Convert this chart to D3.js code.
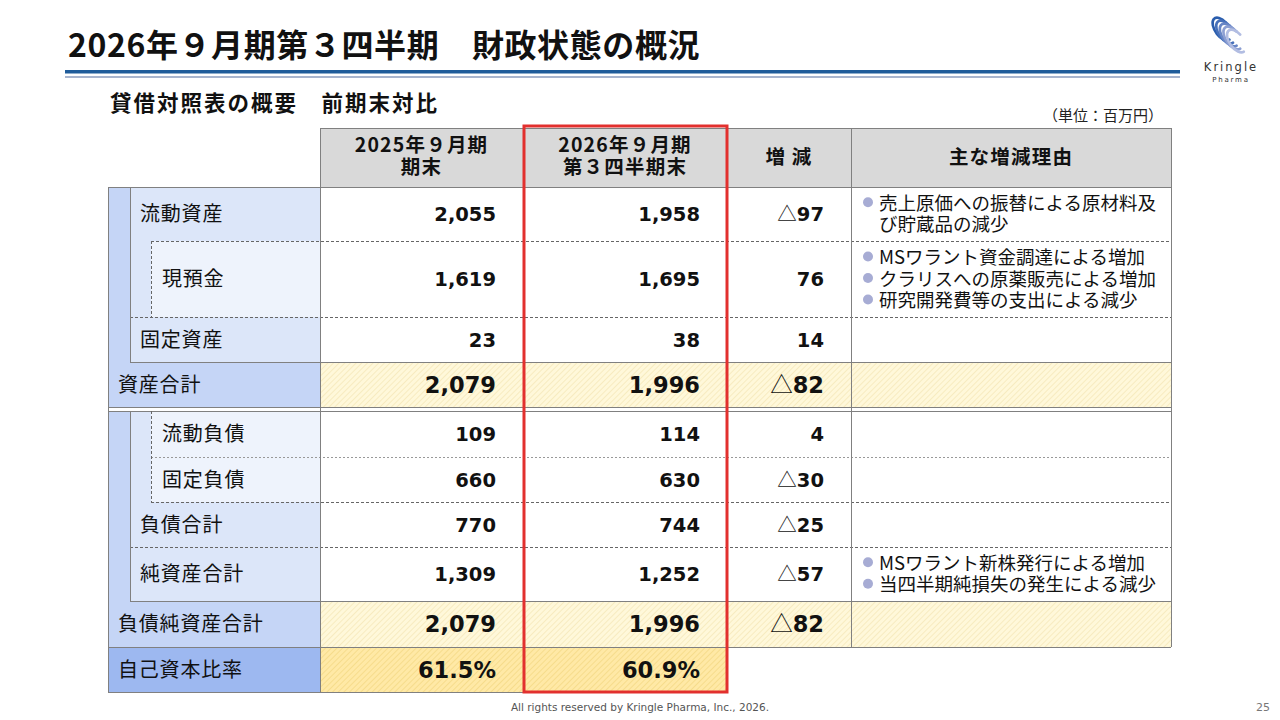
<!DOCTYPE html>
<html>
<head>
<meta charset="utf-8">
<script src="https://cdn.jsdelivr.net/npm/d3@7"></script>
<style>
  html, body { margin: 0; padding: 0; background: #fff; }
  svg { display: block; }
</style>
</head>
<body>
<script>
// values in 百万円
const items = ["流動資産", "現預金", "固定資産", "資産合計", "流動負債", "固定負債", "負債合計", "純資産合計", "負債純資産合計", "自己資本比率"];
const levels = [1, 2, 1, 0, 2, 2, 1, 1, 0, 0];
const prevValues = [2055, 1619, 23, 2079, 109, 660, 770, 1309, 2079, 61.5];
const currValues = [1958, 1695, 38, 1996, 114, 630, 744, 1252, 1996, 60.9];
const diffValues = [-97, 76, 14, -82, 4, -30, -25, -57, -82, null];
const reasons = [
	["売上原価への振替による原材料及", "び貯蔵品の減少"],
	["MSワラント資金調達による増加", "クラリスへの原薬販売による増加", "研究開発費等の支出による減少"],
	[], [], [], [], [],
	["MSワラント新株発行による増加", "当四半期純損失の発生による減少"],
	[], []
];
const headers = [["2025年９月期", "期末"], ["2026年９月期", "第３四半期末"], ["増 減"], ["主な増減理由"]];
const columns = ["prev", "curr", "diff", "reason"];

// layout
const W = 1280, H = 720;
const jp = "'Noto Sans CJK JP', 'Noto Sans', sans-serif";
const num = "'DejaVu Sans', Verdana, sans-serif";
const grid = "#808080";
const rowHeights = [54, 76, 45, 45, 46, 45, 45, 54, 46, 45];
const gapAfter = 3, gapSize = 4;
const headTop = 128, headBottom = 187;
const xLeft = 108, xStrip = 130, xSub = 151, xLabelEnd = 320, xRight = 1171;

const colX = d3.scaleOrdinal().domain(columns).range([320, 523, 727, 851]);
const colW = d3.scaleOrdinal().domain(columns).range([203, 204, 124, 320]);

let acc = headBottom;
const rowY = rowHeights.map((h, i) => {
	const y = acc;
	acc += h + (i === gapAfter ? gapSize : 0);
	return y;
});
const tableBottom = rowY[9] + rowHeights[9];

const svg = d3.select("body").append("svg")
	.attr("width", W)
	.attr("height", H);

// hatch patterns for total rows
const defs = svg.append("defs");
function hatch(id, bg, fg) {
	const p = defs.append("pattern")
		.attr("id", id)
		.attr("patternUnits", "userSpaceOnUse")
		.attr("width", 4).attr("height", 4)
		.attr("patternTransform", "rotate(45)");
	p.append("rect").attr("width", 4).attr("height", 4).attr("fill", bg);
	p.append("line").attr("x1", 0).attr("y1", 0).attr("x2", 0).attr("y2", 4)
		.attr("stroke", fg).attr("stroke-width", 1.2);
}
hatch("hatchLight", "#FFF8DA", "#F3E3AE");
hatch("hatchDark", "#FFE9A6", "#F1D37A");

// title + rules
svg.append("text")
	.attr("x", 68).attr("y", 57)
	.attr("font-family", jp).attr("font-weight", 700).attr("font-size", 32)
	.attr("letter-spacing", 0.6)
	.attr("fill", "#111")
	.text("2026年９月期第３四半期　財政状態の概況");
svg.append("rect").attr("x", 65).attr("y", 70).attr("width", 1115).attr("height", 3.5).attr("fill", "#1F5C9A");
svg.append("rect").attr("x", 65).attr("y", 76).attr("width", 1115).attr("height", 2).attr("fill", "#A8B5CE");

svg.append("text")
	.attr("x", 110).attr("y", 111)
	.attr("font-family", jp).attr("font-weight", 700).attr("font-size", 21.5)
	.attr("letter-spacing", 2)
	.attr("fill", "#111")
	.text("貸借対照表の概要　前期末対比");
svg.append("text")
	.attr("x", 1163).attr("y", 121)
	.attr("text-anchor", "end")
	.attr("font-family", jp).attr("font-size", 15)
	.attr("fill", "#222")
	.text("（単位：百万円）");

// logo
const logo = svg.append("g").attr("transform", "translate(1229,36)");
const arcColors = ["#2A5DAD", "#4670BA", "#6886C6", "#8C9FD3", "#B2BDE2"];
logo.selectAll("g.coil")
	.data(arcColors)
	.join("g")
	.attr("class", "coil")
	.attr("transform", (c, i) => `translate(${-7 + i * 3.6},${-7 + i * 3}) rotate(-35)`)
	.append("path")
	.attr("d", "M 0 13 A 7 13 0 1 1 6.8 -3")
	.attr("fill", "none")
	.attr("stroke", c => c)
	.attr("stroke-width", 2.6)
	.attr("stroke-linecap", "round");
logo.append("text").attr("x", 2).attr("y", 35)
	.attr("text-anchor", "middle")
	.attr("font-family", "'DejaVu Sans', sans-serif").attr("font-size", 11.5)
	.attr("letter-spacing", 2).attr("fill", "#333")
	.text("Kringle");
logo.append("text").attr("x", 2).attr("y", 46)
	.attr("text-anchor", "middle")
	.attr("font-family", "'DejaVu Sans', sans-serif").attr("font-size", 7)
	.attr("letter-spacing", 1.8).attr("fill", "#333")
	.text("Pharma");

// header
const head = svg.append("g");
head.selectAll("rect")
	.data(columns)
	.join("rect")
	.attr("x", c => colX(c)).attr("y", headTop)
	.attr("width", c => colW(c)).attr("height", headBottom - headTop)
	.attr("fill", "#D9D9D9");
head.selectAll("text")
	.data(headers)
	.join("text")
	.attr("x", (h, i) => colX(columns[i]) + colW(columns[i]) / 2)
	.attr("y", h => h.length === 2 ? 152 : 164)
	.attr("text-anchor", "middle")
	.attr("font-family", jp).attr("font-weight", 700).attr("font-size", 19.5)
	.attr("letter-spacing", 1.2)
	.attr("fill", "#111")
	.selectAll("tspan")
	.data(h => h)
	.join("tspan")
	.attr("x", function () { return this.parentNode.getAttribute("x"); })
	.attr("dy", (t, j) => j === 0 ? 0 : 22)
	.text(t => t);

// label cells
const labels = svg.append("g");
const labelColor = ["#C5D5F6", "#DCE6F9", "#EEF3FC"];
items.forEach((name, i) => {
	const y = rowY[i], h = rowHeights[i], lv = levels[i];
	if (lv === 0) {
		labels.append("rect").attr("x", xLeft).attr("y", y).attr("width", xLabelEnd - xLeft).attr("height", h)
			.attr("fill", i === 9 ? "#9DB8F0" : labelColor[0]);
	} else {
		labels.append("rect").attr("x", xLeft).attr("y", y).attr("width", xStrip - xLeft).attr("height", h)
			.attr("fill", labelColor[0]);
		labels.append("rect").attr("x", xStrip).attr("y", y).attr("width", xLabelEnd - xStrip).attr("height", h)
			.attr("fill", labelColor[1]);
		if (lv === 2) {
			labels.append("rect").attr("x", xSub).attr("y", y).attr("width", xLabelEnd - xSub).attr("height", h)
				.attr("fill", labelColor[2]);
		}
	}
});
labels.selectAll("text")
	.data(items)
	.join("text")
	.attr("x", (d, i) => [118, 140, 162][levels[i]])
	.attr("y", (d, i) => rowY[i] + rowHeights[i] / 2)
	.attr("dy", "0.36em")
	.attr("font-family", jp).attr("font-size", 20)
	.attr("letter-spacing", 0.8)
	.attr("fill", "#111")
	.text(d => d);

// value cells
const cells = svg.append("g");
items.forEach((name, i) => {
	const total = levels[i] === 0;
	const cols = i === 9 ? ["prev", "curr"] : columns;
	cols.forEach(c => {
		cells.append("rect")
			.attr("x", colX(c)).attr("y", rowY[i])
			.attr("width", colW(c)).attr("height", rowHeights[i])
			.attr("fill", !total ? "#fff" : (i === 9 ? "url(#hatchDark)" : "url(#hatchLight)"));
	});
});

const fmtInt = d3.format(",");
const fmtPct = v => d3.format(".1f")(v) + "%";
const fmt = (v, i) => i === 9 ? fmtPct(v) : fmtInt(v);

function valueText(values, col) {
	cells.append("g").selectAll("text")
		.data(values)
		.join("text")
		.filter(v => v !== null)
		.attr("x", colX(col) + colW(col) - 27)
		.attr("y", (v, i) => rowY[i] + rowHeights[i] / 2)
		.attr("dy", "0.36em")
		.attr("text-anchor", "end")
		.attr("font-family", num).attr("font-weight", 700)
		.attr("font-size", (v, i) => levels[i] === 0 ? 22.5 : 19.5)
		.attr("fill", "#111")
		.each(function (v, i) {
			const t = d3.select(this);
			if (col === "diff" && v < 0) {
				t.append("tspan").attr("font-family", jp).attr("font-weight", 400).text("△");
				t.append("tspan").text(fmtInt(-v));
			} else {
				t.text(fmt(v, i));
			}
		});
}
valueText(prevValues, "prev");
valueText(currValues, "curr");
valueText(diffValues, "diff");

// reasons
const reasonG = svg.append("g");
reasons.forEach((lines, i) => {
	const lh = 21.5;
	const y0 = rowY[i] + rowHeights[i] / 2 - (lines.length - 1) * lh / 2;
	lines.forEach((t, j) => {
		const startsBullet = !(i === 0 && j === 1);
		if (startsBullet) {
			reasonG.append("circle")
				.attr("cx", colX("reason") + 17).attr("cy", y0 + j * lh - 1)
				.attr("r", 5).attr("fill", "#A7ACD4");
		}
		reasonG.append("text")
			.attr("x", colX("reason") + 28).attr("y", y0 + j * lh)
			.attr("dy", "0.36em")
			.attr("font-family", jp).attr("font-size", 18.5)
			.attr("fill", "#111")
			.text(t);
	});
});

// grid lines
const lines = svg.append("g").attr("fill", "none").attr("stroke", grid).attr("stroke-width", 1);
function hline(y, x1, x2, style) {
	const l = lines.append("line").attr("x1", x1).attr("x2", x2).attr("y1", y + 0.5).attr("y2", y + 0.5);
	if (style === "dash") l.attr("stroke-dasharray", "3,2").attr("stroke", "#666");
	if (style === "dot") l.attr("stroke-dasharray", "2,2").attr("stroke", "#999");
	return l;
}
function vline(x, y1, y2, style) {
	const l = lines.append("line").attr("x1", x + 0.5).attr("x2", x + 0.5).attr("y1", y1).attr("y2", y2);
	if (style === "dash") l.attr("stroke-dasharray", "3,2").attr("stroke", "#666");
	return l;
}

const ruleStart = [xLeft, xSub, xStrip, xStrip, xLeft, xSub, xSub, xStrip, xStrip, xLeft];
const ruleStyle = ["solid", "dash", "dash", "solid", "solid", "dot", "dash", "dash", "solid", "solid"];
rowY.forEach((y, i) => hline(y, ruleStart[i], xRight, ruleStyle[i]));
hline(rowY[gapAfter] + rowHeights[gapAfter], xLeft, xRight, "solid");
hline(headTop, xLabelEnd, xRight, "solid");
hline(tableBottom, xLeft, colX("diff"), "solid");

vline(xLeft, headBottom, tableBottom);
vline(xStrip, rowY[0], rowY[2] + rowHeights[2]);
vline(xStrip, rowY[4], rowY[7] + rowHeights[7]);
vline(xSub, rowY[1], rowY[1] + rowHeights[1], "dash");
vline(xSub, rowY[4], rowY[5] + rowHeights[5], "dash");
columns.forEach(c => vline(colX(c), headTop, c === "reason" ? rowY[9] : tableBottom));
vline(xRight, headTop, rowY[9]);

// highlight current quarter column
svg.append("rect")
	.attr("x", colX("curr") + 1).attr("y", headTop - 2)
	.attr("width", colW("curr") - 1).attr("height", tableBottom - headTop + 2)
	.attr("fill", "none").attr("stroke", "#E2302E").attr("stroke-width", 3);

// footer
svg.append("text")
	.attr("x", 640).attr("y", 711)
	.attr("text-anchor", "middle")
	.attr("font-family", "'DejaVu Sans', sans-serif").attr("font-size", 10.5)
	.attr("fill", "#555")
	.text("All rights reserved by Kringle Pharma, Inc., 2026.");
svg.append("text")
	.attr("x", 1270).attr("y", 711)
	.attr("text-anchor", "end")
	.attr("font-family", "'DejaVu Sans', sans-serif").attr("font-size", 11)
	.attr("fill", "#777")
	.text("25");
</script>
</body>
</html>
